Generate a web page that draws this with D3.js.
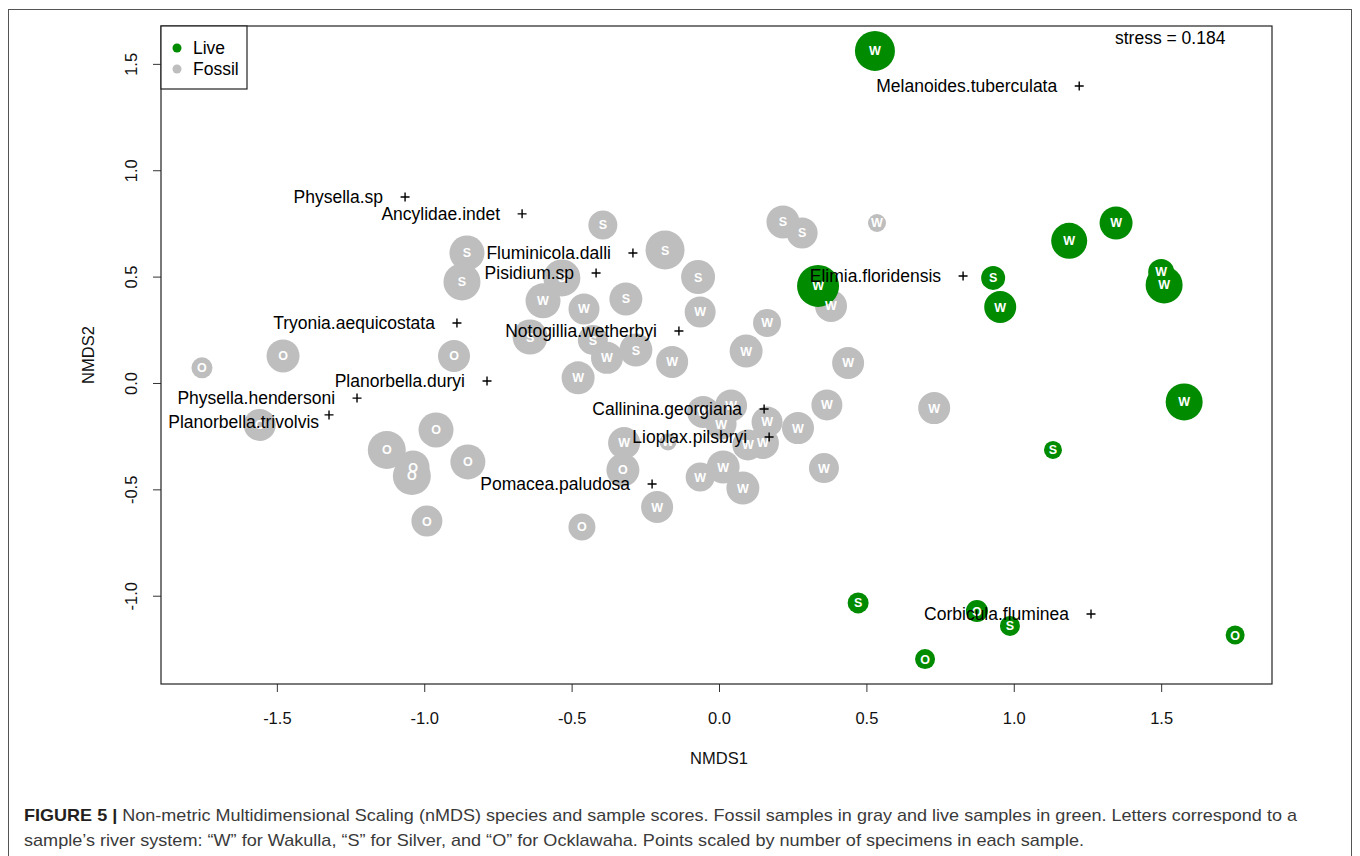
<!DOCTYPE html>
<html>
<head>
<meta charset="utf-8">
<script src="https://cdn.jsdelivr.net/npm/d3@7"></script>
<style>
  body { margin: 0; background: #fff; }
  svg { display: block; font-family: "Liberation Sans", Arial, sans-serif; }
</style>
</head>
<body>
<svg width="1360" height="856"></svg>
<script>
// live samples (green)
var liveX = [0.529, 0.336, 0.930, 0.954, 1.188, 1.347, 1.500, 1.510, 1.578, 1.133, 0.472, 0.875, 0.987, 0.699, 1.751];
var liveY = [1.561, 0.456, 0.494, 0.357, 0.668, 0.752, 0.522, 0.461, -0.089, -0.315, -1.034, -1.072, -1.142, -1.298, -1.185];
var liveSize = [4.0, 4.2, 2.4, 3.2, 3.6, 3.3, 2.6, 3.7, 3.7, 1.8, 2.1, 2.2, 2.0, 2.0, 1.9];
var liveRiver = ['W', 'W', 'S', 'W', 'W', 'W', 'W', 'W', 'W', 'S', 'S', 'O', 'S', 'O', 'O'];

// fossil samples (gray)
var fossilX = [-1.754, -1.479, -0.899, -1.558, -0.960, -1.127, -1.038, -1.042, -0.852, -0.991, -0.465,
    -0.394, -0.855, -0.872, -0.533, -0.597, -0.458, -0.316, -0.183, -0.071, -0.064, -0.641, -0.428,
    -0.380, -0.282, -0.159, -0.478, 0.217, 0.282, 0.536, 0.380, 0.163, 0.092, 0.438, 0.366, 0.730,
    -0.054, 0.041, 0.007, 0.163, 0.268, 0.149, 0.098, -0.322, -0.173, -0.326, 0.014, -0.064, 0.081,
    -0.210, 0.356];
var fossilY = [0.071, 0.127, 0.127, -0.197, -0.221, -0.315, -0.395, -0.437, -0.371, -0.649, -0.677,
    0.743, 0.611, 0.475, 0.494, 0.386, 0.348, 0.395, 0.625, 0.498, 0.334, 0.216, 0.202,
    0.118, 0.155, 0.099, 0.024, 0.757, 0.705, 0.752, 0.362, 0.282, 0.150, 0.094, -0.103, -0.118,
    -0.136, -0.106, -0.193, -0.183, -0.212, -0.282, -0.291, -0.282, -0.277, -0.409, -0.395, -0.442, -0.494,
    -0.583, -0.400];
var fossilSize = [2.1, 3.3, 3.2, 3.2, 3.5, 3.8, 3.3, 3.8, 3.5, 3.1, 2.7,
    2.9, 3.5, 3.7, 3.7, 3.5, 3.1, 3.3, 3.9, 3.4, 3.1, 3.5, 3.0,
    3.2, 3.3, 3.2, 3.3, 3.3, 3.1, 1.8, 3.2, 2.8, 3.3, 3.2, 3.1, 3.2,
    3.2, 3.2, 3.1, 3.1, 3.2, 3.2, 3.1, 3.2, 1.7, 3.3, 3.3, 2.9, 3.3,
    3.2, 3.0];
var fossilRiver = ['O', 'O', 'O', 'O', 'O', 'O', 'O', 'O', 'O', 'O', 'O',
    'S', 'S', 'S', 'S', 'W', 'W', 'S', 'S', 'S', 'W', 'S', 'S',
    'W', 'S', 'W', 'W', 'S', 'S', 'W', 'W', 'W', 'W', 'W', 'W', 'W',
    'W', 'W', 'W', 'W', 'W', 'W', 'W', 'W', 'W', 'O', 'W', 'W', 'W',
    'W', 'W'];

// species scores
var speciesNames = ['Melanoides.tuberculata', 'Physella.sp', 'Ancylidae.indet', 'Fluminicola.dalli',
    'Pisidium.sp', 'Elimia.floridensis', 'Tryonia.aequicostata', 'Notogillia.wetherbyi',
    'Planorbella.duryi', 'Physella.hendersoni', 'Planorbella.trivolvis', 'Callinina.georgiana',
    'Lioplax.pilsbryi', 'Pomacea.paludosa', 'Corbicula.fluminea'];
var speciesX = [1.222, -1.065, -0.668, -0.292, -0.417, 0.828, -0.889, -0.136, -0.787, -1.228, -1.323, 0.153, 0.170, -0.227, 1.262];
var speciesY = [1.396, 0.874, 0.795, 0.611, 0.517, 0.503, 0.282, 0.244, 0.009, -0.071, -0.150, -0.122, -0.254, -0.475, -1.086];

var xTicks = [-1.5, -1.0, -0.5, 0.0, 0.5, 1.0, 1.5];
var yTicks = [-1.0, -0.5, 0.0, 0.5, 1.0, 1.5];
var legendLabels = ['Live', 'Fossil'];
var stressValue = 0.184;

var captionBold = 'FIGURE 5 | ';
var captionLine1 = 'Non-metric Multidimensional Scaling (nMDS) species and sample scores. Fossil samples in gray and live samples in green. Letters correspond to a';
var captionLine2 = 'sample\u2019s river system: \u201cW\u201d for Wakulla, \u201cS\u201d for Silver, and \u201cO\u201d for Ocklawaha. Points scaled by number of specimens in each sample.';

var liveColor = '#008b00';
var fossilColor = '#bebebe';

var svg = d3.select('svg');

// plot region
var plot = { l: 161, t: 26, r: 1272, b: 684 };

var xScale = d3.scaleLinear().domain([-1.893, 1.876]).range([plot.l, plot.r]);
var yScale = d3.scaleLinear().domain([-1.415, 1.678]).range([plot.b, plot.t]);
var rScale = d3.scaleLinear().domain([0, 4]).range([0, 20]);

// outer figure frame
svg.append('rect')
    .attr('x', 8.5).attr('y', 9.5)
    .attr('width', 1343).attr('height', 900)
    .attr('fill', 'none').attr('stroke', '#555').attr('stroke-width', 1);

// axes
var xAxis = svg.append('g')
    .attr('transform', 'translate(0,' + plot.b + ')')
    .call(d3.axisBottom(xScale).tickValues(xTicks).tickSize(8).tickFormat(function (d) { return d.toFixed(1); }));
xAxis.select('.domain').remove();
xAxis.selectAll('line').attr('stroke', '#333');
xAxis.selectAll('text')
    .attr('y', 34).attr('dy', '0.35em')
    .attr('font-size', '16.5px').attr('fill', '#111')
    .attr('font-family', '"Liberation Sans", Arial, sans-serif');

var yAxis = svg.append('g')
    .attr('transform', 'translate(' + plot.l + ',0)')
    .call(d3.axisLeft(yScale).tickValues(yTicks).tickSize(8).tickFormat(function (d) { return d.toFixed(1); }));
yAxis.select('.domain').remove();
yAxis.selectAll('line').attr('stroke', '#333');
yAxis.selectAll('text')
    .attr('x', null).attr('dy', '0.35em')
    .attr('transform', 'translate(-30,0) rotate(-90)')
    .attr('text-anchor', 'middle')
    .attr('font-size', '16.5px').attr('fill', '#111')
    .attr('font-family', '"Liberation Sans", Arial, sans-serif');

// axis titles
svg.append('text')
    .attr('x', 719).attr('y', 758).attr('dy', '0.35em')
    .attr('text-anchor', 'middle').attr('font-size', '16.5px').attr('fill', '#111')
    .text('NMDS1');
svg.append('text')
    .attr('transform', 'translate(88,' + ((plot.t + plot.b) / 2) + ') rotate(-90)')
    .attr('dy', '0.35em')
    .attr('text-anchor', 'middle').attr('font-size', '16.5px').attr('fill', '#111')
    .text('NMDS2');

// sample points: all circles first, then all letters on top (as R does)
function sampleRows(xs, ys, sizes, rivers, color) {
    return xs.map(function (x, i) {
        return { x: x, y: ys[i], size: sizes[i], river: rivers[i], color: color };
    });
}
var samples = sampleRows(fossilX, fossilY, fossilSize, fossilRiver, fossilColor)
    .concat(sampleRows(liveX, liveY, liveSize, liveRiver, liveColor));

svg.append('g').selectAll('circle').data(samples).enter().append('circle')
    .attr('cx', function (d) { return xScale(d.x); })
    .attr('cy', function (d) { return yScale(d.y); })
    .attr('r', function (d) { return rScale(d.size); })
    .attr('fill', function (d) { return d.color; });

svg.append('g').selectAll('text').data(samples).enter().append('text')
    .attr('x', function (d) { return xScale(d.x); })
    .attr('y', function (d) { return yScale(d.y); })
    .attr('text-anchor', 'middle').attr('dy', '0.36em')
    .attr('font-size', '12.5px').attr('font-weight', 'bold')
    .attr('fill', '#fff')
    .text(function (d) { return d.river; });

// species crosses and labels
var labelNudge = { 'Planorbella.trivolvis': { dx: -10, dy: 7 } };
var species = speciesNames.map(function (n, i) { return { name: n, x: speciesX[i], y: speciesY[i] }; });
var sp = svg.append('g').selectAll('g').data(species).enter().append('g')
    .attr('transform', function (d) { return 'translate(' + xScale(d.x) + ',' + yScale(d.y) + ')'; });
sp.append('path')
    .attr('d', 'M-4.5,0H4.5M0,-4.5V4.5')
    .attr('stroke', '#000').attr('stroke-width', 1.4);
sp.append('text')
    .attr('x', function (d) { return labelNudge[d.name] ? labelNudge[d.name].dx : -22; })
    .attr('y', function (d) { return labelNudge[d.name] ? labelNudge[d.name].dy : 0; })
    .attr('dy', '0.35em')
    .attr('text-anchor', 'end').attr('font-size', '17.5px').attr('fill', '#000')
    .text(function (d) { return d.name; });

// stress
svg.append('text')
    .attr('x', 1115).attr('y', 38).attr('dy', '0.35em')
    .attr('font-size', '17.5px').attr('fill', '#000')
    .text('stress = ' + stressValue);

// plot box
svg.append('rect')
    .attr('x', plot.l).attr('y', plot.t)
    .attr('width', plot.r - plot.l).attr('height', plot.b - plot.t)
    .attr('fill', 'none').attr('stroke', '#222').attr('stroke-width', 1.2);

// legend
var legend = svg.append('g');
legend.append('rect')
    .attr('x', plot.l).attr('y', plot.t)
    .attr('width', 86).attr('height', 63)
    .attr('fill', '#fff').attr('stroke', '#222').attr('stroke-width', 1.2);
var legendColors = [liveColor, fossilColor];
legendLabels.forEach(function (lab, i) {
    var ly = 48 + i * 21;
    legend.append('circle').attr('cx', 177).attr('cy', ly).attr('r', 4.5).attr('fill', legendColors[i]);
    legend.append('text').attr('x', 193).attr('y', ly).attr('dy', '0.35em')
        .attr('font-size', '17.5px').attr('fill', '#000').text(lab);
});

// caption
var cap1 = svg.append('text')
    .attr('x', 24).attr('y', 821)
    .attr('font-size', '17px').attr('fill', '#3a3a3a')
    .attr('textLength', 1273).attr('lengthAdjust', 'spacingAndGlyphs');
cap1.append('tspan').attr('font-weight', 'bold').attr('fill', '#231f20').text(captionBold);
cap1.append('tspan').text(captionLine1);
svg.append('text')
    .attr('x', 24).attr('y', 846)
    .attr('font-size', '17px').attr('fill', '#3a3a3a')
    .attr('textLength', 1060).attr('lengthAdjust', 'spacingAndGlyphs')
    .text(captionLine2);
</script>
</body>
</html>
